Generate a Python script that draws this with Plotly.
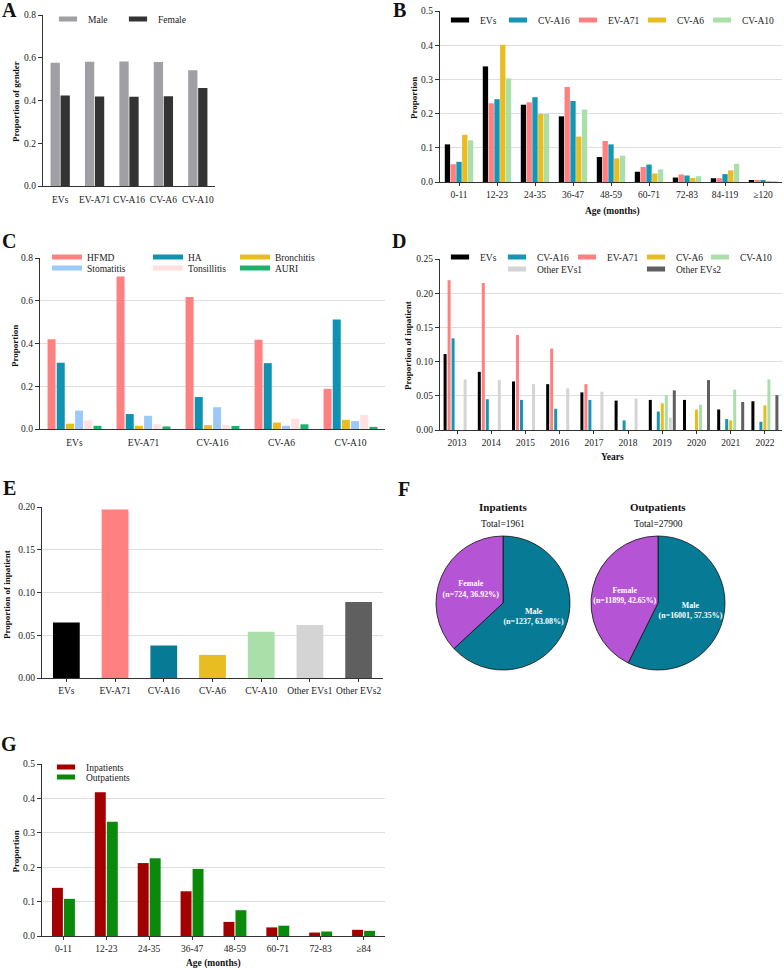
import plotly.graph_objects as go

W, H = 784, 969
FONT = "Liberation Serif"

# ---------------- data ----------------
# A: gender proportion
a_cats = ["EVs", "EV-A71", "CV-A16", "CV-A6", "CV-A10"]
a_male = [0.577, 0.581, 0.583, 0.580, 0.541]
a_female = [0.423, 0.419, 0.417, 0.420, 0.459]

# B: age distribution by virus type
b_cats = ["0-11", "12-23", "24-35", "36-47", "48-59", "60-71", "72-83", "84-119", "≥120"]
b_evs = [0.110, 0.338, 0.226, 0.192, 0.073, 0.030, 0.013, 0.011, 0.003]
b_a71 = [0.052, 0.230, 0.233, 0.278, 0.120, 0.044, 0.022, 0.011, 0.004]
b_a16 = [0.059, 0.242, 0.248, 0.237, 0.110, 0.051, 0.019, 0.023, 0.006]
b_a6 = [0.138, 0.401, 0.199, 0.133, 0.069, 0.025, 0.012, 0.034, 0.002]
b_a10 = [0.122, 0.303, 0.199, 0.212, 0.077, 0.037, 0.017, 0.053, 0.002]

# C: clinical diagnosis by virus type
c_cats = ["EVs", "EV-A71", "CV-A16", "CV-A6", "CV-A10"]
c_hfmd = [0.420, 0.714, 0.618, 0.417, 0.188]
c_ha = [0.310, 0.070, 0.150, 0.308, 0.512]
c_bron = [0.025, 0.015, 0.018, 0.030, 0.043]
c_stom = [0.086, 0.062, 0.102, 0.015, 0.037]
c_tons = [0.040, 0.022, 0.018, 0.048, 0.066]
c_auri = [0.015, 0.012, 0.014, 0.022, 0.010]

# D: proportion of inpatient by year
d_years = ["2013", "2014", "2015", "2016", "2017", "2018", "2019", "2020", "2021", "2022"]
d_evs = [0.111, 0.085, 0.071, 0.067, 0.055, 0.043, 0.044, 0.044, 0.030, 0.042]
d_a71 = [0.219, 0.215, 0.139, 0.119, 0.067, None, None, None, None, None]
d_a16 = [0.134, 0.045, 0.044, 0.031, 0.044, 0.014, 0.027, None, 0.016, 0.012]
d_a6 = [None, None, None, None, None, None, 0.039, 0.030, 0.014, 0.036]
d_a10 = [None, None, None, None, None, None, 0.051, 0.037, 0.059, 0.074]
d_o1 = [0.074, 0.073, 0.067, 0.061, 0.056, 0.046, 0.018, None, None, None]
d_o2 = [None, None, None, None, None, None, 0.058, 0.073, 0.041, 0.051]

# E: overall proportion of inpatient
e_cats = ["EVs", "EV-A71", "CV-A16", "CV-A6", "CV-A10", "Other EVs1", "Other EVs2"]
e_vals = [0.065, 0.197, 0.038, 0.027, 0.054, 0.062, 0.089]

# F: gender of inpatients / outpatients
f_labels = ["Male", "Female"]
f_inpat = [1237, 724]
f_outpat = [16001, 11899]
f_titles = ["Inpatients", "Outpatients"]

# G: age distribution of inpatients / outpatients
g_cats = ["0-11", "12-23", "24-35", "36-47", "48-59", "60-71", "72-83", "≥84"]
g_in = [0.140, 0.418, 0.212, 0.130, 0.041, 0.025, 0.010, 0.018]
g_out = [0.108, 0.332, 0.226, 0.195, 0.075, 0.030, 0.013, 0.015]

# ---------------- colours ----------------
C_MALE_A, C_FEM_A = "#a0a0a4", "#333333"
C_EVS, C_A16, C_A71, C_A6, C_A10 = "#000000", "#1496b4", "#ff8080", "#e8bd22", "#aadfaa"
C_O1, C_O2 = "#d4d4d4", "#5f5f5f"
C_HFMD, C_HA, C_BRON, C_STOM, C_TONS, C_AURI = "#ff8080", "#0f93b0", "#e8bd22", "#9cc8fa", "#fde0df", "#1db36c"
C_MALE_F, C_FEM_F = "#077b95", "#b555d6"
C_IN, C_OUT = "#a30000", "#0a8a0a"
E_COLORS = [C_EVS, C_A71, "#077b95", C_A6, C_A10, C_O1, C_O2]

fig = go.Figure()
lay = {}


def px(x):
    return x / W


def py(y):
    return 1 - y / H


def add_group(series, names, colors, cats, xa, ya, slot, width):
    n = len(series)
    for i, (vals, name, col) in enumerate(zip(series, names, colors)):
        off = -n * slot / 2 + i * slot + (slot - width) / 2
        fig.add_trace(go.Bar(x=cats, y=vals, name=name, offset=off, width=width,
                             marker=dict(color=col, line=dict(width=0)),
                             xaxis=xa, yaxis=ya, showlegend=False))


LEG_FONT = dict(family=FONT, size=9.5, color="#222222")
_leg_count = [0]


def add_leg(name, color, text_x, y, xa, ya, style="marker"):
    """One legend entry; text_x is where the entry's text starts (px)."""
    _leg_count[0] += 1
    lid = "legend" if _leg_count[0] == 1 else "legend%d" % _leg_count[0]
    if style == "marker":
        fig.add_trace(go.Scatter(x=[None], y=[None], name=name, mode="markers",
                                 marker=dict(symbol="line-ew", size=13, color=color,
                                             line=dict(color=color, width=5)),
                                 legend=lid, xaxis=xa, yaxis=ya, hoverinfo="skip"))
    else:
        fig.add_trace(go.Scatter(x=[None], y=[None], name=name, mode="lines",
                                 line=dict(color=color, width=5),
                                 legend=lid, xaxis=xa, yaxis=ya, hoverinfo="skip"))
    lay[lid] = dict(x=px(text_x - 40), y=py(y), xanchor="left", yanchor="middle", orientation="h",
                    bgcolor="rgba(0,0,0,0)", borderwidth=0, font=LEG_FONT,
                    itemclick=False, itemdoubleclick=False)


# A
add_group([a_male, a_female], ["Male", "Female"], [C_MALE_A, C_FEM_A], a_cats, "x", "y", 0.29, 0.27)
add_leg("Male", C_MALE_A, 88, 19, "x", "y")
add_leg("Female", C_FEM_A, 158, 19, "x", "y")

# B
add_group([b_evs, b_a71, b_a16, b_a6, b_a10], ["EVs", "EV-A71", "CV-A16", "CV-A6", "CV-A10"],
          [C_EVS, C_A71, C_A16, C_A6, C_A10], b_cats, "x2", "y2", 0.152, 0.14)
for nm, col, tx in [("EVs", C_EVS, 480), ("CV-A16", C_A16, 538), ("EV-A71", C_A71, 608),
                    ("CV-A6", C_A6, 677), ("CV-A10", C_A10, 742)]:
    add_leg(nm, col, tx, 20, "x2", "y2")

# C
add_group([c_hfmd, c_ha, c_bron, c_stom, c_tons, c_auri],
          ["HFMD", "HA", "Bronchitis", "Stomatitis", "Tonsillitis", "AURI"],
          [C_HFMD, C_HA, C_BRON, C_STOM, C_TONS, C_AURI], c_cats, "x3", "y3", 0.133, 0.116)
for nm, col, tx, ty in [("HFMD", C_HFMD, 87, 257), ("Stomatitis", C_STOM, 87, 268),
                        ("HA", C_HA, 188, 257), ("Tonsillitis", C_TONS, 188, 268),
                        ("Bronchitis", C_BRON, 275, 257), ("AURI", C_AURI, 275, 268)]:
    add_leg(nm, col, tx, ty, "x3", "y3", style="line")

# D
add_group([d_evs, d_a71, d_a16, d_a6, d_a10, d_o1, d_o2],
          ["EVs", "EV-A71", "CV-A16", "CV-A6", "CV-A10", "Other EVs1", "Other EVs2"],
          [C_EVS, C_A71, C_A16, C_A6, C_A10, C_O1, C_O2], d_years, "x4", "y4", 0.117, 0.088)
for nm, col, tx, ty in [("EVs", C_EVS, 480, 257), ("CV-A16", C_A16, 537, 257), ("Other EVs1", C_O1, 537, 269),
                        ("EV-A71", C_A71, 607, 257), ("CV-A6", C_A6, 676, 257), ("Other EVs2", C_O2, 676, 269),
                        ("CV-A10", C_A10, 740, 257)]:
    add_leg(nm, col, tx, ty, "x4", "y4")

# E
fig.add_trace(go.Bar(x=e_cats, y=e_vals, width=0.55, offset=-0.275,
                     marker=dict(color=E_COLORS, line=dict(width=0)),
                     xaxis="x5", yaxis="y5", showlegend=False))

# G
add_group([g_in, g_out], ["Inpatients", "Outpatients"], [C_IN, C_OUT], g_cats, "x6", "y6", 0.28, 0.255)
add_leg("Inpatients", C_IN, 86, 767, "x6", "y6")
add_leg("Outpatients", C_OUT, 86, 777, "x6", "y6")

# F pies
pie_boxes = [(436, 570), (591, 725)]
for vals, (x0, x1) in zip([f_inpat, f_outpat], pie_boxes):
    fig.add_trace(go.Pie(labels=f_labels, values=vals, sort=False, direction="clockwise", rotation=0,
                         domain=dict(x=[px(x0), px(x1)], y=[py(670), py(536)]),
                         marker=dict(colors=[C_MALE_F, C_FEM_F], line=dict(color="#111111", width=0.8)),
                         texttemplate="<b>%{label}<br>(n=%{value:d}, %{percent:.2%})</b>",
                         textposition="inside", insidetextorientation="horizontal",
                         textfont=dict(color="white", size=8, family=FONT),
                         showlegend=False, hoverinfo="skip"))

# ---------------- axes ----------------
AX_COLOR = "#333333"
panels = {
    # name: (x0, x1, ytop, ybottom, ymax, dtick, fmt, grid, xticks)
    "1": (43, 215, 15, 186, 0.8, 0.2, ".1f", False, False),
    "2": (440, 782, 11, 182, 0.5, 0.1, ".1f", True, True),
    "3": (40, 385, 258, 429, 0.8, 0.2, ".1f", True, False),
    "4": (440, 782, 259, 430, 0.25, 0.05, ".2f", True, True),
    "5": (42, 383, 507, 678, 0.2, 0.05, ".2f", True, True),
    "6": (42, 385, 764, 936, 0.5, 0.1, ".1f", True, True),
}
for k, (x0, x1, yt, yb, ymax, dt, fmt, grid, xt) in panels.items():
    sx = "" if k == "1" else k
    lay["xaxis" + sx] = dict(domain=[px(x0), px(x1)], anchor="y" + sx, type="category",
                             showline=True, linecolor=AX_COLOR, linewidth=1.3,
                             ticks="outside" if xt else "", ticklen=3, tickcolor=AX_COLOR, tickwidth=1,
                             tickangle=0, ticklabelstandoff=0 if xt else 4,
                             tickfont=dict(family=FONT, size=9.5, color="#222222"),
                             showgrid=False, zeroline=False, fixedrange=True)
    lay["yaxis" + sx] = dict(domain=[py(yb), py(yt)], anchor="x" + sx, range=[0, ymax],
                             dtick=dt, tick0=0, tickformat=fmt,
                             showline=True, linecolor=AX_COLOR, linewidth=1.3,
                             ticks="outside", ticklen=4, tickcolor=AX_COLOR, tickwidth=1,
                             tickfont=dict(family=FONT, size=9.5, color="#222222"),
                             showgrid=grid, gridcolor="#dedede", gridwidth=1,
                             zeroline=False, fixedrange=True)

# ---------------- annotations ----------------
ann = []


def text(x, y, t, size, bold=False, angle=0, xanchor="center"):
    ann.append(dict(x=px(x), y=py(y), xref="paper", yref="paper", text=("<b>%s</b>" % t) if bold else t,
                    showarrow=False, textangle=angle, xanchor=xanchor, yanchor="middle",
                    font=dict(family=FONT, size=size, color="#111111")))


for letter, (lx, ly) in zip("ABCDEFG", [(9, 10), (399, 10), (9, 241), (399, 241), (9, 488), (404, 489), (9, 744)]):
    text(lx, ly, letter, 20, bold=True)

text(16, 102, "Proportion of gender", 9, bold=True, angle=-90)
text(414, 98, "Proportion", 9, bold=True, angle=-90)
text(612, 212, "Age (months)", 9.5, bold=True)
text(15, 346, "Proportion", 9, bold=True, angle=-90)
text(408, 346, "Proportion of inpatient", 9, bold=True, angle=-90)
text(612, 457, "Years", 9.5, bold=True)
text(7, 595, "Proportion of inpatient", 9, bold=True, angle=-90)
text(15.5, 852, "Proportion", 9, bold=True, angle=-90)
text(213, 963, "Age (months)", 9.5, bold=True)

for t, tot, (x0, x1) in zip(f_titles, [f_inpat, f_outpat], pie_boxes):
    cx = (x0 + x1) / 2
    text(cx, 507, t, 11, bold=True)
    text(cx, 524, "Total=%d" % sum(tot), 9.5)

lay["annotations"] = ann

fig.update_layout(width=W, height=H, margin=dict(l=0, r=0, t=0, b=0, autoexpand=False),
                  paper_bgcolor="white", plot_bgcolor="white",
                  barmode="overlay", font=dict(family=FONT), hovermode=False, **lay)

fig.write_html("out.html", config={"displayModeBar": False},
               post_script="document.body.style.margin='0px';document.body.style.padding='0px';")
